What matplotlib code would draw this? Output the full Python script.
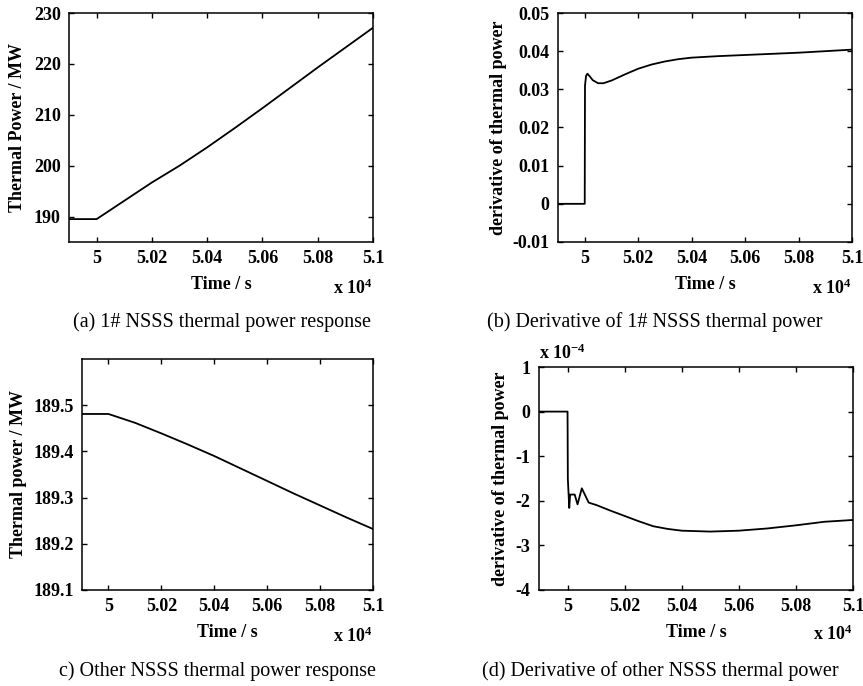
import numpy as np
import matplotlib
matplotlib.use("Agg")
import matplotlib.pyplot as plt
from matplotlib.ticker import FuncFormatter

plt.rcParams['font.family'] = ['Liberation Serif', 'DejaVu Serif']
plt.rcParams['mathtext.fontset'] = 'custom'
plt.rcParams['mathtext.rm'] = 'Liberation Serif:bold'
plt.rcParams['mathtext.default'] = 'rm'
plt.rcParams['axes.unicode_minus'] = False

# (a) 1# NSSS thermal power
t_a = [49900, 50000, 50050, 50100, 50150, 50200, 50300, 50400, 50500,
       50600, 50700, 50800, 50900, 51000]
p_a = [189.5, 189.5, 191.3, 193.1, 194.9, 196.7, 200.0, 203.6, 207.4,
       211.3, 215.3, 219.3, 223.2, 227.1]

# (b) derivative of 1# NSSS thermal power
t_b = [49900, 50000, 50001, 50005, 50010, 50020, 50030, 50050, 50070, 50100,
       50150, 50200, 50250, 50300, 50350, 50400, 50500, 50600, 50700, 50800,
       50900, 51000]
d_b = [0.0, 0.0, 0.031, 0.0335, 0.0341, 0.0333, 0.0324, 0.0316, 0.0316, 0.0323,
       0.0339, 0.0354, 0.0365, 0.0373, 0.0379, 0.0383, 0.0387, 0.0390, 0.0393,
       0.0396, 0.0400, 0.0404]

# (c) other NSSS thermal power
t_c = [49900, 50000, 50100, 50200, 50300, 50400, 50500, 50600, 50700,
       50800, 50900, 51000]
p_c = [189.481, 189.481, 189.462, 189.439, 189.415, 189.390, 189.363,
       189.336, 189.309, 189.283, 189.257, 189.232]

# (d) derivative of other NSSS thermal power (x 1e-4)
t_d = [49900, 50000, 50001, 50006, 50009, 50025, 50035, 50050, 50074,
       50103, 50150, 50200, 50250, 50300, 50350, 50400, 50500, 50600, 50700,
       50800, 50900, 51000]
d_d = [0.0, 0.0, -1.5, -2.16, -1.86, -1.86, -2.08, -1.72, -2.04,
       -2.10, -2.22, -2.34, -2.46, -2.57, -2.63, -2.67, -2.69, -2.67, -2.62,
       -2.55, -2.47, -2.43]

W, H = 863, 686
fig = plt.figure(figsize=(W / 100, H / 100), dpi=100)


def box(l, r, t, b):
    return [l / W, (H - b) / H, (r - l) / W, (b - t) / H]


def setup(ax, ylim, yticks, ylabel, ylab_x, yfmt="%g"):
    ax.set_xlim(49900, 51000)
    ax.set_xticks(np.arange(50000, 51001, 200))
    ax.xaxis.set_major_formatter(FuncFormatter(lambda v, p: "%g" % (v / 1e4)))
    ax.set_ylim(*ylim)
    ax.set_yticks(yticks)
    ax.yaxis.set_major_formatter(FuncFormatter(lambda v, p: yfmt % round(v, 4)))
    ax.tick_params(direction='in', top=True, right=True, length=3.5, width=1,
                   labelsize=13, pad=6)
    for lab in ax.get_xticklabels() + ax.get_yticklabels():
        lab.set_fontweight('bold')
    for s in ax.spines.values():
        s.set_linewidth(1.1)
    ax.set_xlabel("Time / s", fontsize=13, fontweight='bold', labelpad=6)
    ax.set_ylabel(ylabel, fontsize=13, fontweight='bold')
    ax.yaxis.set_label_coords(ylab_x, 0.5)
    ax.text(1.0, -0.2, "x 10$^{4}$", transform=ax.transAxes, ha='right',
            va='center', fontsize=13, fontweight='bold')


ax1 = fig.add_axes(box(69, 373, 13, 242))
ax1.plot(t_a, p_a, color='black', lw=1.3)
setup(ax1, (185, 230), np.arange(190, 231, 10), "Thermal Power / MW", -0.14)

ax2 = fig.add_axes(box(558, 852, 13, 242))
ax2.plot(t_b, d_b, color='black', lw=1.3)
setup(ax2, (-0.01, 0.05), [-0.01, 0, 0.01, 0.02, 0.03, 0.04, 0.05],
      "derivative of thermal power", -0.175)

ax3 = fig.add_axes(box(82, 373, 359, 590))
ax3.plot(t_c, p_c, color='black', lw=1.3)
setup(ax3, (189.1, 189.6), [189.1, 189.2, 189.3, 189.4, 189.5],
      "Thermal power / MW", -0.19, yfmt="%.1f")

ax4 = fig.add_axes(box(539, 853, 367, 590))
ax4.plot(t_d, d_d, color='black', lw=1.3)
setup(ax4, (-4, 1), [-4, -3, -2, -1, 0, 1], "derivative of thermal power", -0.095)
ax4.text(0.0, 1.06, "x 10$^{-4}$", transform=ax4.transAxes, ha='left',
         va='center', fontsize=13, fontweight='bold')

caps = [(222, 322, "(a) 1# NSSS thermal power response"),
        (655, 322, "(b) Derivative of 1# NSSS thermal power"),
        (217, 671, "c) Other NSSS thermal power response"),
        (660, 671, "(d) Derivative of other NSSS thermal power")]
for x, y, s in caps:
    fig.text(x / W, 1 - y / H, s, ha='center', va='center', fontsize=14.5)

fig.savefig("out.png", dpi=100)
